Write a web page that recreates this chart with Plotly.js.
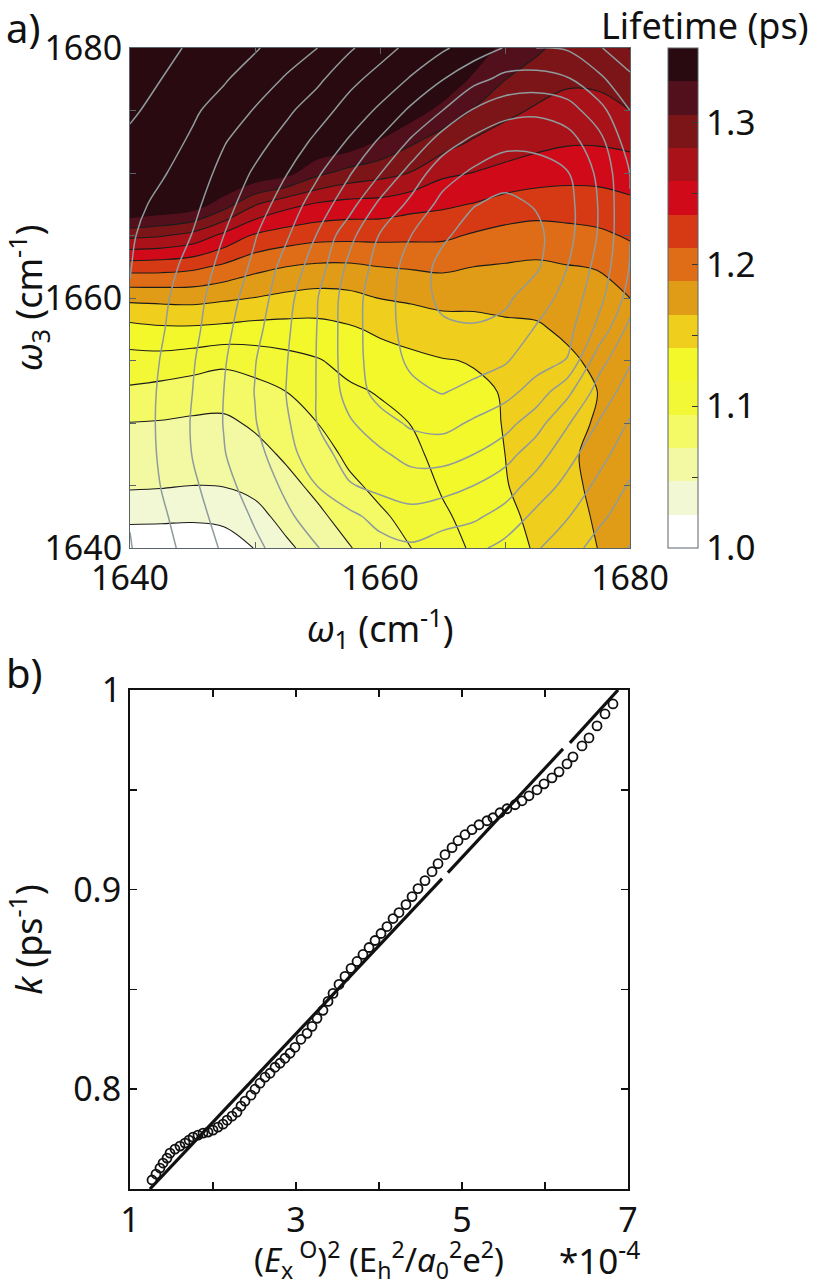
<!DOCTYPE html>
<html>
<head>
<meta charset="utf-8">
<script src="https://cdn.plot.ly/plotly-3.0.1.min.js"></script>
<style>html,body{margin:0;padding:0;background:#fff}#chart{width:814px;height:1286px}</style>
</head>
<body>
<div id="chart"></div>
<script>
// Panel a grid (cm-1)
const omega1 = [1640,1642.5,1645,1647.5,1650,1652.5,1655,1657.5,1660,1662.5,1665,1667.5,1670,1672.5,1675,1677.5,1680];
const omega3 = [1640,1642.5,1645,1647.5,1650,1652.5,1655,1657.5,1660,1662.5,1665,1667.5,1670,1672.5,1675,1677.5,1680];

// Lifetime (ps) read per omega1 column, rows from omega3 = 1640 upward
const life1640 = [1.007,1.029,1.050,1.060,1.070,1.090,1.109,1.133,1.170,1.222,1.288,1.362,1.388,1.400,1.411,1.423,1.423];
const life1642 = [1.008,1.028,1.049,1.059,1.069,1.086,1.109,1.137,1.171,1.221,1.284,1.353,1.383,1.400,1.411,1.423,1.423];
const life1645 = [1.008,1.027,1.047,1.057,1.067,1.082,1.105,1.137,1.172,1.217,1.274,1.345,1.376,1.400,1.411,1.423,1.423];
const life1647 = [1.016,1.027,1.048,1.057,1.066,1.081,1.099,1.135,1.168,1.207,1.253,1.317,1.364,1.392,1.407,1.418,1.423];
const life1650 = [1.024,1.040,1.053,1.063,1.074,1.086,1.104,1.132,1.164,1.195,1.232,1.284,1.350,1.376,1.400,1.411,1.423];
const life1652 = [1.043,1.054,1.064,1.074,1.084,1.094,1.110,1.132,1.159,1.188,1.224,1.266,1.338,1.369,1.395,1.411,1.423];
const life1655 = [1.056,1.066,1.076,1.085,1.094,1.105,1.116,1.133,1.156,1.184,1.219,1.256,1.311,1.353,1.388,1.411,1.423];
const life1657 = [1.069,1.079,1.090,1.098,1.106,1.114,1.124,1.138,1.158,1.184,1.218,1.251,1.297,1.345,1.371,1.395,1.411];
const life1660 = [1.082,1.091,1.099,1.105,1.112,1.119,1.131,1.145,1.165,1.188,1.218,1.250,1.290,1.327,1.353,1.376,1.400];
const life1662 = [1.094,1.100,1.106,1.112,1.118,1.127,1.136,1.150,1.168,1.190,1.217,1.243,1.281,1.309,1.341,1.364,1.385];
const life1665 = [1.107,1.114,1.120,1.125,1.130,1.135,1.140,1.154,1.172,1.192,1.216,1.239,1.263,1.294,1.322,1.348,1.364];
const life1667 = [1.121,1.125,1.128,1.131,1.134,1.138,1.142,1.156,1.171,1.188,1.209,1.234,1.258,1.279,1.304,1.325,1.345];
const life1670 = [1.133,1.136,1.140,1.141,1.142,1.142,1.148,1.161,1.170,1.186,1.204,1.226,1.252,1.271,1.288,1.306,1.322];
const life1672 = [1.143,1.146,1.148,1.151,1.154,1.157,1.160,1.162,1.171,1.184,1.202,1.222,1.247,1.265,1.279,1.294,1.310];
const life1675 = [1.154,1.155,1.159,1.160,1.155,1.154,1.161,1.168,1.177,1.187,1.204,1.223,1.243,1.261,1.273,1.286,1.296];
const life1677 = [1.165,1.168,1.170,1.172,1.168,1.165,1.169,1.176,1.182,1.189,1.207,1.225,1.243,1.261,1.274,1.287,1.296];
const life1680 = [1.176,1.176,1.176,1.176,1.176,1.177,1.180,1.183,1.188,1.200,1.214,1.230,1.247,1.264,1.282,1.294,1.306];

// Gray spectrum contour rank (0 at the peak, growing outward), same grid
const rank1640 = [11.05,10.95,10.9,10.85,10.85,10.85,10.85,10.9,10.95,11.03,11.1,11.3,11.5,11.8,12.15,12.5,12.8];
const rank1642 = [10.35,10.17,9.97,9.85,9.8,9.84,9.95,10.1,10.22,10.42,10.58,10.77,11.1,11.4,11.7,12,12.4];
const rank1645 = [9.62,9.42,9.2,8.97,8.93,9.0,9.09,9.26,9.39,9.64,9.97,10.26,10.56,10.86,11.15,11.45,11.8];
const rank1647 = [8.87,8.6,8.27,8.05,7.97,8.0,8.1,8.27,8.44,8.7,9,9.35,9.7,10.07,10.6,11.1,11.45];
const rank1650 = [8.2,7.88,7.6,7.34,7.05,6.97,7.04,7.29,7.54,7.8,8.06,8.46,8.86,9.37,9.93,10.5,11.1];
const rank1652 = [7.58,7.19,6.8,6.34,6.15,5.98,6.05,6.17,6.35,6.65,7.12,7.57,8.04,8.62,9.2,9.9,10.5];
const rank1655 = [7.02,6.5,5.98,5.43,4.98,4.95,4.95,4.97,5.03,5.49,5.94,6.52,7.13,7.75,8.45,9.2,10];
const rank1657 = [6.66,6.3,5.08,4.58,4.13,3.65,3.5,3.48,3.5,3.78,4.33,5.45,6.1,6.9,7.6,8.3,9.15];
const rank1660 = [6.4,5.62,4.74,4.17,3.42,2.6,2.45,2.41,2.42,2.6,2.93,3.76,5.05,5.85,6.83,7.62,8.4];
const rank1662 = [6.15,5.33,4.5,3.66,2.83,2.2,1.85,1.65,1.58,1.62,2,2.78,3.55,4.87,5.8,6.9,7.72];
const rank1665 = [6.5,5.6,4.62,3.6,2.67,1.95,1.6,1.2,0.75,0.7,1.17,1.7,2.44,3.45,5.0,6.03,7.15];
const rank1667 = [6.75,5.85,5,4,3.14,2.25,1.64,1.1,0.6,0.35,0.55,1.05,1.82,2.75,3.9,5.3,6.5];
const rank1670 = [7.3,6.36,5.53,4.63,3.6,2.68,1.9,1.32,0.8,0.3,0.35,0.75,1.43,2.27,3.35,4.73,5.95];
const rank1672 = [7.9,7.26,6.4,5.55,4.6,3.4,2.6,2.08,1.55,0.85,0.75,1.08,1.6,2.25,3.2,4.6,6.0];
const rank1675 = [8.6,7.95,7.3,6.65,5.9,4.75,3.05,2.65,2.33,2,1.7,1.68,1.95,2.6,3.5,4.9,6.1];
const rank1677 = [9.37,8.8,8.23,7.65,7.05,6.41,5.63,4.28,3.7,3.35,3.08,3.05,3.2,3.6,4.65,5.75,6.93];
const rank1680 = [10.05,9.5,9.1,8.6,8.1,7.45,6.9,6.35,5.4,5.05,4.98,4.98,5.02,5.6,6.0,6.85,7.5];

const lifeColumns = [life1640,life1642,life1645,life1647,life1650,life1652,life1655,life1657,life1660,life1662,life1665,life1667,life1670,life1672,life1675,life1677,life1680];
const rankColumns = [rank1640,rank1642,rank1645,rank1647,rank1650,rank1652,rank1655,rank1657,rank1660,rank1662,rank1665,rank1667,rank1670,rank1672,rank1675,rank1677,rank1680];
const toRows = cols => omega3.map((_, r) => cols.map(c => c[r]));

const bandColors = ['#ffffff','#f3f8d4','#f3f9a2','#f4f966','#f3f836','#f3f82b','#efce1e','#e19c17','#df6d17','#d63a14','#d10a1a','#a81218','#7c1518','#52101c','#280a10'];
const colorscale = bandColors.map((c, i) => [i / (bandColors.length - 1), c]);

// Panel b circles
const fieldSq = [1.265,1.313,1.361,1.398,1.446,1.482,1.542,1.602,1.663,1.711,1.759,1.819,1.880,1.940,2.000,2.060,2.120,2.169,2.229,2.289,2.337,2.386,2.458,2.506,2.566,2.627,2.687,2.747,2.807,2.867,2.928,2.988,3.060,3.133,3.193,3.253,3.325,3.386,3.446,3.518,3.590,3.663,3.735,3.807,3.880,3.952,4.024,4.096,4.169,4.241,4.325,4.398,4.470,4.554,4.639,4.711,4.795,4.880,4.952,5.036,5.120,5.205,5.301,5.373,5.458,5.542,5.639,5.723,5.807,5.904,5.988,6.084,6.169,6.265,6.337,6.446,6.530,6.627,6.723,6.819];
const rate = [.7545,.7575,.7605,.763,.7655,.768,.770,.7715,.773,.7745,.776,.777,.778,.7785,.7795,.781,.7825,.7845,.7865,.7885,.7915,.794,.797,.800,.803,.806,.808,.811,.813,.8155,.818,.821,.825,.828,.8315,.8355,.8395,.844,.848,.8525,.8565,.8605,.864,.8675,.871,.8745,.878,.8815,.8855,.8885,.8925,.8965,.9005,.9045,.909,.913,.9175,.921,.9245,.9275,.930,.9325,.9345,.936,.9385,.9405,.9425,.9445,.947,.950,.953,.956,.959,.963,.9665,.972,.976,.982,.988,.993];
// Panel b fit line, with the two gaps seen in the figure
const fitX = [1.24,4.76,null,4.83,6.217,null,6.30,6.88];
const fitY = [0.75,0.9055,null,0.9085,0.9705,null,0.9735,1.0];

const W = 814, H = 1286;
const FONT = '"Noto Sans", "Open Sans", sans-serif';
const INK = '#111';
const lvl = {start: 1.0235, size: 0.0235};

const traces = [
  {type:'contour', x:omega1, y:omega3, z:toRows(lifeColumns), xaxis:'x', yaxis:'y',
   colorscale, zauto:false, zmin:1.0, zmax:1.3525,
   autocontour:false,
   contours:{coloring:'fill', start:lvl.start, end:1.329, size:lvl.size, showlines:false},
   line:{width:0, smoothing:1},
   colorbar:{
     x:668/W, xanchor:'left', xpad:0, y:1-48/H, yanchor:'top', ypad:0,
     thickness:30, thicknessmode:'pixels', len:500, lenmode:'pixels',
     outlinecolor:'#5a6468', outlinewidth:1,
     ticks:'inside', ticklen:6, tickcolor:'#333', tickwidth:1,
     tickmode:'array', tickvals:[1.0,1.05,1.1,1.15,1.2,1.25,1.3],
     ticktext:['1.0','','1.1','','1.2','','1.3'],
     tickfont:{family:FONT, size:35, color:INK}
   }},
  {type:'contour', x:omega1, y:omega3, z:toRows(lifeColumns), xaxis:'x', yaxis:'y',
   showscale:false, autocontour:false, hoverinfo:'skip',
   contours:{coloring:'none', start:lvl.start, end:1.3055, size:lvl.size},
   line:{color:'#1c1c1c', width:1.1, smoothing:1}},
  {type:'contour', x:omega1, y:omega3, z:toRows(rankColumns), xaxis:'x', yaxis:'y',
   showscale:false, autocontour:false, hoverinfo:'skip',
   contours:{coloring:'none', start:1, end:12, size:1},
   line:{color:'#8f9b9d', width:1.5, smoothing:1}},
  {type:'scatter', mode:'lines', x:fitX, y:fitY, xaxis:'x2', yaxis:'y2',
   connectgaps:false, line:{color:INK, width:3.2}, cliponaxis:false},
  {type:'scatter', mode:'markers', x:fieldSq, y:rate, xaxis:'x2', yaxis:'y2',
   marker:{symbol:'circle-open', size:9, color:INK, line:{width:1.8, color:INK}}}
];

const tickFont = {family:FONT, size:34, color:INK};
const titleFont = {family:FONT, size:36, color:INK};
const gridAxis = {showline:true, linecolor:'#5a6468', linewidth:1, mirror:'allticks', ticks:'inside', ticklen:6, tickcolor:'#5a6468', tickwidth:1, showgrid:false, zeroline:false, tickfont:tickFont, tickangle:0};
const boxAxis = {showline:true, linecolor:INK, linewidth:2, mirror:'allticks', ticks:'inside', ticklen:7, tickcolor:INK, tickwidth:1.5, showgrid:false, zeroline:false, tickfont:tickFont, tickangle:0};

const layout = {
  width:W, height:H, margin:{l:0,r:0,t:0,b:0}, paper_bgcolor:'#fff', plot_bgcolor:'#fff', showlegend:false,
  font:{family:FONT},
  xaxis:Object.assign({}, gridAxis, {domain:[130/W,630/W], anchor:'y', range:[1640,1680],
    tickmode:'array', tickvals:[1640,1650,1660,1670,1680], ticktext:['1640','','1660','','1680'],
    title:{text:'<i>ω</i><sub>1</sub> (cm<sup>-1</sup>)', font:titleFont, standoff:2}}),
  yaxis:Object.assign({}, gridAxis, {domain:[1-548/H,1-48/H], anchor:'x', range:[1640,1680],
    tickmode:'array', tickvals:[1640,1645,1650,1655,1660,1665,1670,1675,1680], ticktext:['1640','','','','1660','','','','1680'],
    title:{text:'<i>ω</i><sub>3</sub> (cm<sup>-1</sup>)', font:titleFont, standoff:24}}),
  xaxis2:Object.assign({}, boxAxis, {domain:[130/W,628/W], anchor:'y2', range:[1,7],
    tickmode:'array', tickvals:[1,2,3,4,5,6,7], ticktext:['1','','3','','5','','7'],
    title:{text:'(<i>E</i><sub>x</sub><sup> O</sup>)<sup>2</sup> (E<sub>h</sub><sup>2</sup>/<i>a</i><sub>0</sub><sup>2</sup>e<sup>2</sup>)', font:{family:FONT,size:33,color:INK}, standoff:2}}),
  yaxis2:Object.assign({}, boxAxis, {domain:[1-1189/H,1-690/H], anchor:'x2', range:[0.75,1],
    tickmode:'array', tickvals:[0.75,0.8,0.85,0.9,0.95,1], ticktext:['','0.8','','0.9','','1'],
    title:{text:'<i>k</i> (ps<sup>-1</sup>)', font:titleFont, standoff:32}}),
  annotations:[
    {xref:'paper',yref:'paper',x:4/W,y:1-28/H,xanchor:'left',yanchor:'middle',text:'a)',showarrow:false,font:{family:FONT,size:40,color:INK}},
    {xref:'paper',yref:'paper',x:4/W,y:1-672/H,xanchor:'left',yanchor:'middle',text:'b)',showarrow:false,font:{family:FONT,size:40,color:INK}},
    {xref:'paper',yref:'paper',x:810/W,y:1-26/H,xanchor:'right',yanchor:'middle',text:'Lifetime (ps)',showarrow:false,font:{family:FONT,size:36,color:INK}},
    {xref:'paper',yref:'paper',x:642/W,y:1-1258/H,xanchor:'right',yanchor:'middle',text:'*10<sup>-4</sup>',showarrow:false,font:{family:FONT,size:35,color:INK}}
  ]
};

Plotly.newPlot('chart', traces, layout, {displayModeBar:false, staticPlot:true});
</script>
</body>
</html>
